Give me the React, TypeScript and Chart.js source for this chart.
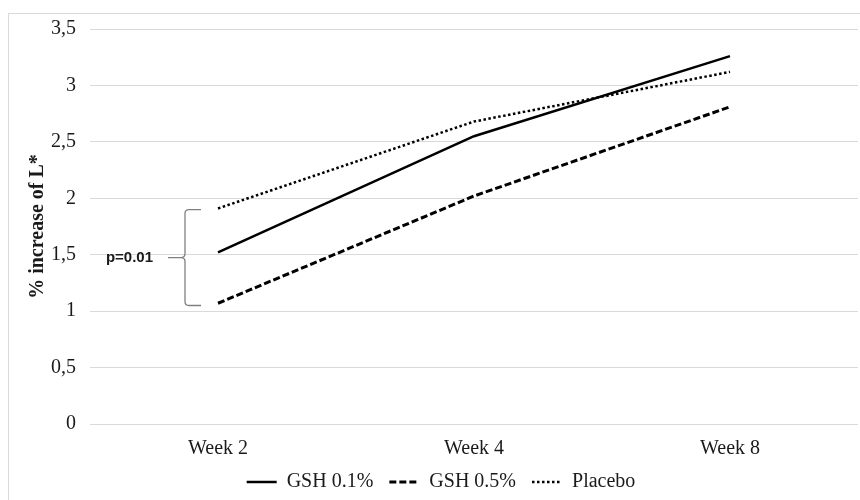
import React, { useEffect, useRef } from "react";
import { Chart, registerables } from "chart.js";

Chart.register(...registerables);

const categories = ["Week 2", "Week 4", "Week 8"];
const gsh01 = [1.52, 2.55, 3.26];
const gsh05 = [1.07, 2.02, 2.81];
const placebo = [1.91, 2.68, 3.12];
const seriesNames = ["GSH 0.1%", "GSH 0.5%", "Placebo"];
const yTicks = [0, 0.5, 1, 1.5, 2, 2.5, 3, 3.5];
const bracketRange = [1.05, 1.9];
const bracketLabel = "p=0.01";

const serif = "'Liberation Serif', 'Times New Roman', serif";

const bracketPlugin = {
  id: "bracket",
  afterDatasetsDraw(chart: any) {
    const { ctx, scales } = chart;
    const x0 = scales.x.getPixelForValue(0);
    const yTop = scales.y.getPixelForValue(bracketRange[1]);
    const yBot = scales.y.getPixelForValue(bracketRange[0]);
    const yMid = (yTop + yBot) / 2;
    const vx = x0 - 33;
    const r = 4;
    ctx.save();
    ctx.strokeStyle = "#808080";
    ctx.lineWidth = 1.3;
    ctx.beginPath();
    ctx.moveTo(x0 - 17, yTop);
    ctx.lineTo(vx + r, yTop);
    ctx.quadraticCurveTo(vx, yTop, vx, yTop + r);
    ctx.lineTo(vx, yMid - r);
    ctx.quadraticCurveTo(vx, yMid, vx - r, yMid);
    ctx.quadraticCurveTo(vx, yMid, vx, yMid + r);
    ctx.lineTo(vx, yBot - r);
    ctx.quadraticCurveTo(vx, yBot, vx + r, yBot);
    ctx.lineTo(x0 - 17, yBot);
    ctx.moveTo(vx - r, yMid);
    ctx.lineTo(vx - 17, yMid);
    ctx.stroke();
    ctx.fillStyle = "#1a1a1a";
    ctx.font = "bold 15px 'Liberation Sans', Arial, sans-serif";
    ctx.textAlign = "right";
    ctx.textBaseline = "middle";
    ctx.fillText(bracketLabel, vx - 32, yMid);
    ctx.restore();
  },
};

export default function App() {
  const ref = useRef<HTMLCanvasElement>(null);
  useEffect(() => {
    if (!ref.current) return;
    const chart = new Chart(ref.current, {
      type: "line",
      data: {
        labels: categories,
        datasets: [
          { label: seriesNames[0], data: gsh01, borderColor: "#000", backgroundColor: "#000", borderWidth: 2.5, pointRadius: 0, pointStyle: "line" },
          { label: seriesNames[1], data: gsh05, borderColor: "#000", backgroundColor: "#000", borderWidth: 3, borderDash: [7, 3], pointRadius: 0, pointStyle: "line" },
          { label: seriesNames[2], data: placebo, borderColor: "#000", backgroundColor: "#000", borderWidth: 2.5, borderDash: [2.5, 2.5], pointRadius: 0, pointStyle: "line" },
        ],
      },
      options: {
        responsive: false,
        animation: false,
        layout: { padding: { top: 29, left: 24, right: 2, bottom: -2 } },
        plugins: {
          tooltip: { enabled: false },
          legend: {
            position: "bottom",
            labels: {
              usePointStyle: true,
              pointStyleWidth: 30,
              boxHeight: 10,
              padding: 16,
              color: "#1a1a1a",
              font: { family: serif, size: 20 },
              generateLabels: (c: any) => {
                const items = Chart.defaults.plugins.legend.labels.generateLabels(c);
                return items.map((it: any) => {
                  const ds = c.data.datasets[it.datasetIndex];
                  return { ...it, lineDash: ds.borderDash || [], lineWidth: ds.borderWidth, strokeStyle: ds.borderColor };
                });
              },
            },
          },
        },
        scales: {
          x: {
            offset: true,
            grid: { display: false, drawTicks: false },
            border: { display: false },
            ticks: { color: "#1a1a1a", padding: 13, font: { family: serif, size: 20 } },
            afterFit: (s: any) => { s.height = 32; },
          },
          y: {
            min: 0,
            max: 3.5,
            afterBuildTicks: (s: any) => { s.ticks = yTicks.map((v) => ({ value: v })); },
            grid: { color: "#d9d9d9", lineWidth: 1, drawTicks: false },
            border: { display: false },
            ticks: {
              color: "#1a1a1a",
              padding: 14,
              font: { family: serif, size: 20 },
              callback: (v: any) => String(v).replace(".", ","),
            },
            title: {
              display: true,
              text: "% increase of L*",
              color: "#1a1a1a",
              font: { family: serif, size: 20, weight: "bold" },
              padding: { top: 2, bottom: 0 },
            },
            afterFit: (s: any) => { s.width = 66; },
          },
        },
      },
      plugins: [bracketPlugin],
    });
    return () => chart.destroy();
  }, []);
  return (
    <div style={{ position: "fixed", left: 0, top: 0, width: 860, height: 500, background: "#fff" }}>
      <div style={{ position: "absolute", left: 8, top: 13, width: 860, height: 500, borderLeft: "1px solid #d9d9d9", borderTop: "1px solid #d9d9d9" }} />
      <canvas ref={ref} width={860} height={500} style={{ position: "absolute", left: 0, top: 0 }} />
    </div>
  );
}
